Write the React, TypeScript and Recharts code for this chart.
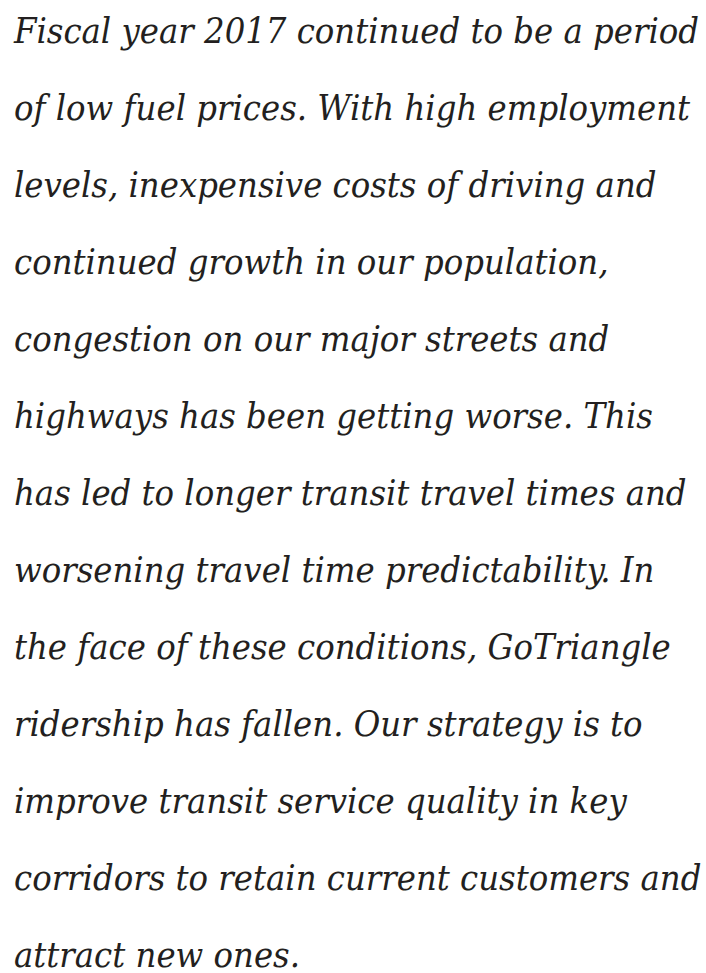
import { Surface, Text } from 'recharts'

const lines = [
  'Fiscal year 2017 continued to be a period',
  'of low fuel prices. With high employment',
  'levels, inexpensive costs of driving and',
  'continued growth in our population,',
  'congestion on our major streets and',
  'highways has been getting worse. This',
  'has led to longer transit travel times and',
  'worsening travel time predictability. In',
  'the face of these conditions, GoTriangle',
  'ridership has fallen. Our strategy is to',
  'improve transit service quality in key',
  'corridors to retain current customers and',
  'attract new ones.',
]

const firstBaseline = 43
const lineStep = 77

export default function App() {
  return (
    <div style={{ position: 'absolute', left: 0, top: 0, width: 706, height: 973, background: '#fff' }}>
      <Surface width={706} height={973}>
        {lines.map((line, i) => (
          <Text
            key={i}
            x={14}
            y={firstBaseline + i * lineStep}
            verticalAnchor="end"
            fontFamily="'DejaVu Serif Condensed', 'DejaVu Serif'"
            fontStretch="condensed"
            fontStyle="italic"
            fontSize={36}
            fill="#231f20"
          >
            {line}
          </Text>
        ))}
      </Surface>
    </div>
  )
}
